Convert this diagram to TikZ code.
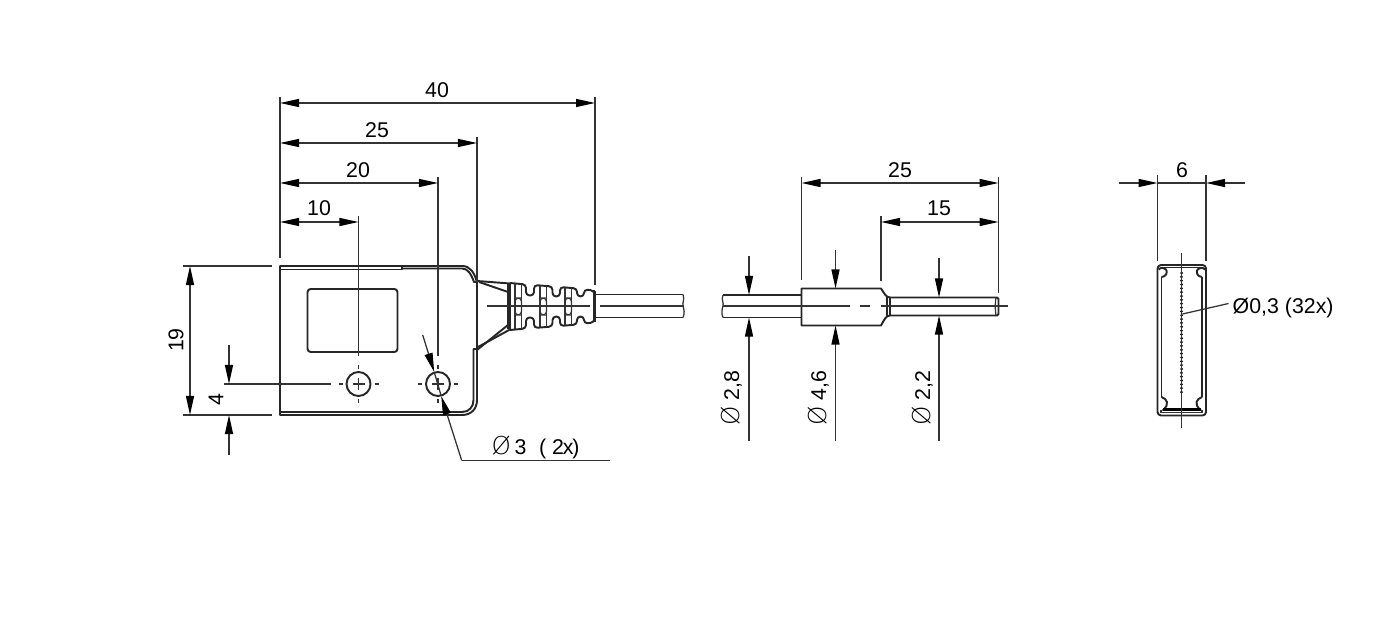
\documentclass[tikz,border=0pt]{standalone}
\usepackage{fontspec}
\setmainfont{Liberation Sans}
\newfontfamily\phifont{DejaVu Sans ExtraLight}
\usetikzlibrary{arrows.meta}

\tikzset{
	arrowtip/.tip={Triangle[length=.19cm,width=.08cm,color=black]},
	outline/.style={line width=.55pt,line join=round,black!85},
	thinline/.style={line width=.36pt,black!80},
	dimline/.style={line width=.36pt,black!80,arrowtip-arrowtip},
	leadline/.style={line width=.36pt,black!80,-arrowtip},
	dimtext/.style={inner sep=0pt,font=\fontsize{6.07}{7}\selectfont}
}
\newcommand{\phisign}{{\fontsize{7}{7}\phifont Ø}}

\begin{document}
\begin{tikzpicture}[x=.01cm,y=-.01cm]

	\useasboundingbox (0,0) rectangle (1380,631);

	% housing
	\coordinate (bl) at (280,415);
	\coordinate (tl) at (280,266);
	\coordinate (holea) at (358.5,384);
	\coordinate (holeb) at (438,384);

	\draw[outline] (tl) -- (bl) -- (462,415) .. controls (471,415) and (477,409) .. (477,400) -- (477,282) .. controls (474,272) and (470,266) .. (462,266) -- cycle;
	\draw[outline] (280,269.5) -- (402,269.5) -- (402,266);
	\draw[outline] (402,268.5) -- (462,268.5) .. controls (468,268.5) and (471,274) .. (474,282) -- (477,282);
	\draw[outline] (280,412) -- (462,412) .. controls (469,412) and (473.5,407) .. (473.5,400) -- (473.5,349) -- (477,349);
	\draw[outline,rounded corners=.9pt] (307.5,289) rectangle (397.5,352);

	\foreach \hole in {holea,holeb}{
		\draw[outline] (\hole) circle (12);
		\draw[thinline] (\hole) ++(-6,0) -- ++(12,0);
		\draw[thinline] (\hole) ++(0,-6) -- ++(0,12);
		\draw[thinline] (\hole) ++(-20,0) -- ++(4,0);
		\draw[thinline] (\hole) ++(16,0) -- ++(4,0);
		\draw[thinline] (\hole) ++(0,-19) -- ++(0,4);
		\draw[thinline] (\hole) ++(0,15) -- ++(0,4);
	}

	% strain relief
	\draw[outline] (477,281) -- (510,283.5);
	\draw[outline] (479,282) -- (508,292);
	\draw[outline] (477,350) -- (508,325);
	\draw[outline] (478,347) -- (510,329.5);
	\draw[outline] (508,283.5) -- (508,329.5);
	\draw[outline] (510,283.5) -- (510,329.5);

	\foreach \sgn in {-1,1}{
		\begin{scope}[shift={(0,306.5)},yscale=\sgn]
			\draw[outline,rounded corners=1pt] (510,23.5) -- (526,22) -- (526,11) -- (534,11) -- (534,21.5) -- (552.5,20) -- (552.5,10) -- (560,10) -- (560,19.5) -- (577,18) -- (577,10) -- (584,10) -- (584,17) -- (594,16) -- (595,11);
		\end{scope}
	}
	\draw[outline] (594,290.5) -- (594,322.5);
	\draw[outline] (595,291) -- (595,322);

	\foreach \rib/\ribtop in {515/22.5,540/20.5,565/18.5}{
		\draw[thinline] (\rib,306.5-\ribtop) -- (\rib,306.5+\ribtop);
		\draw[thinline] (\rib+6.5,306.5-\ribtop) -- (\rib+6.5,306.5+\ribtop);
		\draw[thinline,rounded corners=1pt] (\rib,298) -- (\rib+6.5,298) -- (\rib+6.5,315) -- (\rib,315) -- cycle;
	}

	% cable at the housing
	\draw[outline] (595,294.5) -- (683,294.5);
	\draw[outline] (595,317.5) -- (683,317.5);
	\draw[thinline] (683,294.5) .. controls (685,300) and (682,303) .. (683,306) .. controls (684,310) and (685,313) .. (683,317.5);
	\draw[thinline] (487,306) -- (590,306);
	\draw[thinline] (600,306) -- (684,306);

	% plug side view
	\coordinate (sleevetl) at (801.5,288.5);
	\coordinate (sleevebl) at (801.5,325.5);
	\coordinate (sleevetr) at (881,288.5);
	\coordinate (sleevebr) at (881,325.5);

	\draw[outline] (sleevetl) -- (sleevetr) .. controls (884,293) and (886,297.5) .. (890,297.5) -- (997,297.5) -- (998.5,299) -- (998.5,314) -- (997,315.5) -- (890,315.5) .. controls (886,315.5) and (884,320) .. (sleevebr) -- (sleevebl) -- cycle;
	\draw[outline] (887,296) -- (887,317);
	\draw[outline] (890,297.5) -- (890,315.5);
	\draw[thinline] (996,297.5) .. controls (995,302) and (995,311) .. (996,315.5);
	\draw[outline] (801.5,295) -- (723,295);
	\draw[outline] (801.5,317.5) -- (723,317.5);
	\draw[thinline] (723,295) .. controls (721,300) and (724,303) .. (723,306) .. controls (722,310) and (721,313) .. (723,317.5);
	\draw[thinline] (723,306) -- (850,306);
	\draw[thinline] (860,306) -- (870,306);
	\draw[thinline] (881,306) -- (1008,306);

	% plug face
	\draw[outline,rounded corners=1pt] (1157.5,265) rectangle (1206,415.5);
	\draw[outline] (1163,267.5) -- (1200.5,267.5);
	\draw[outline] (1161.5,277) -- (1161.5,397);
	\draw[outline] (1202,277) -- (1202,397);
	\draw[outline] (1161.5,277) .. controls (1166,277) and (1168,272) .. (1166,269.5) .. controls (1164.5,267.5) and (1161,267) .. (1158.5,269.5);
	\draw[outline] (1202,277) .. controls (1197.5,277) and (1195.5,272) .. (1197.5,269.5) .. controls (1199,267.5) and (1202.5,267) .. (1205,269.5);
	\draw[outline] (1161.5,397) .. controls (1167,399) and (1170,404) .. (1163,410) -- (1200.5,410) .. controls (1193.5,404) and (1196.5,399) .. (1202,397);
	\draw[line width=.7pt] (1163,409.5) -- (1200.5,409.5);
	\draw[thinline] (1161,410) -- (1161,412.5) -- (1202,412.5) -- (1202,410);
	\foreach \pin in {0,...,31}{
		\fill (1181.5,273+\pin*3.84) circle (1.5);
	}
	\draw[thinline] (1181.5,253) -- (1181.5,428);

	% extension lines
	\draw[thinline] (280,97) -- (280,258);
	\draw[thinline] (595,97) -- (595,285);
	\draw[thinline] (477,137) -- (477,282);
	\draw[thinline] (438,177) -- (438,356);
	\draw[thinline] (358.5,216) -- (358.5,356);
	\draw[thinline] (183,266) -- (272,266);
	\draw[thinline] (183,415) -- (272,415);
	\draw[thinline] (224,384) -- (331,384);
	\draw[thinline] (801.5,177) -- (801.5,280);
	\draw[thinline] (881,216) -- (881,281);
	\draw[thinline] (998.5,177) -- (998.5,293);
	\draw[thinline] (1157.5,175) -- (1157.5,261);
	\draw[thinline] (1206,175) -- (1206,261);

	% dimensions, housing
	\coordinate (da) at (280,103);
	\coordinate (db) at (595,103);
	\draw[dimline] (da) -- (db);
	\node[dimtext] (lengthtotal) at (437,90) {40};

	\coordinate (dc) at (280,143);
	\coordinate (dd) at (477,143);
	\draw[dimline] (dc) -- (dd);
	\node[dimtext] (lengthbody) at (377,130) {25};

	\coordinate (de) at (280,183);
	\coordinate (df) at (438,183);
	\draw[dimline] (de) -- (df);
	\node[dimtext] (holetwo) at (358,170) {20};

	\coordinate (dg) at (280,222);
	\coordinate (dh) at (358.5,222);
	\draw[dimline] (dg) -- (dh);
	\node[dimtext] (holeone) at (319,208) {10};

	\coordinate (di) at (190,266);
	\coordinate (dj) at (190,415);
	\draw[dimline] (di) -- (dj);
	\node[dimtext,rotate=90] (heightbody) at (176,340) {19};

	\coordinate (dk) at (229,345);
	\coordinate (dl) at (229,384);
	\coordinate (dm) at (229,455);
	\coordinate (dn) at (229,415);
	\draw[leadline] (dk) -- (dl);
	\draw[leadline] (dm) -- (dn);
	\node[dimtext,rotate=90] (holeheight) at (216,400) {4};

	% hole leader
	\coordinate (lda) at (422.7,335);
	\coordinate (ldb) at (434.2,372);
	\coordinate (ldc) at (441.2,396);
	\coordinate (ldd) at (461.7,460.5);
	\coordinate (lde) at (610,460.5);
	\draw[leadline] (lda) -- (ldb);
	\draw[thinline] (ldb) -- (ldc);
	\draw[leadline] (ldd) -- (ldc);
	\draw[thinline] (ldd) -- (lde);
	\node[dimtext,anchor=base west] (holesize) at (491,454) {\phisign\hspace{1pt}3\hspace{3.6pt}( 2\kern-.3pt x\kern-.4pt)};

	% dimensions, plug
	\coordinate (dp) at (801.5,183);
	\coordinate (dq) at (998.5,183);
	\draw[dimline] (dp) -- (dq);
	\node[dimtext] (pluglength) at (900,170) {25};

	\coordinate (dr) at (881,222);
	\coordinate (ds) at (998.5,222);
	\draw[dimline] (dr) -- (ds);
	\node[dimtext] (pinlength) at (939,208) {15};

	\foreach \dimx/\dimtop/\edgea/\edgeb in {749/256/295/317.5,835.5/250/288.5/325.5,939/258/297.5/315.5}{
		\draw[leadline] (\dimx,\dimtop) -- (\dimx,\edgea);
		\draw[leadline] (\dimx,441) -- (\dimx,\edgeb);
	}
	\node[dimtext,rotate=90,anchor=base] (cablesize) at (739,398) {\phisign\ 2,8};
	\node[dimtext,rotate=90,anchor=base] (sleevesize) at (826,398) {\phisign\ 4,6};
	\node[dimtext,rotate=90,anchor=base] (pinsize) at (930,398) {\phisign\ 2,2};

	% dimensions, face
	\coordinate (dt) at (1119,183);
	\coordinate (du) at (1157.5,183);
	\coordinate (dv) at (1245,183);
	\coordinate (dw) at (1206,183);
	\draw[leadline] (dt) -- (du);
	\draw[leadline] (dv) -- (dw);
	\draw[thinline] (du) -- (dw);
	\node[dimtext] (facewidth) at (1182,170) {6};

	\coordinate (pinend) at (1182.5,314);
	\node[dimtext,anchor=west] (pinlabel) at (1232,307.5) {Ø0,3 (32x)};
	\draw[thinline] (pinend) -- (1228.5,303.5);

\end{tikzpicture}
\end{document}
